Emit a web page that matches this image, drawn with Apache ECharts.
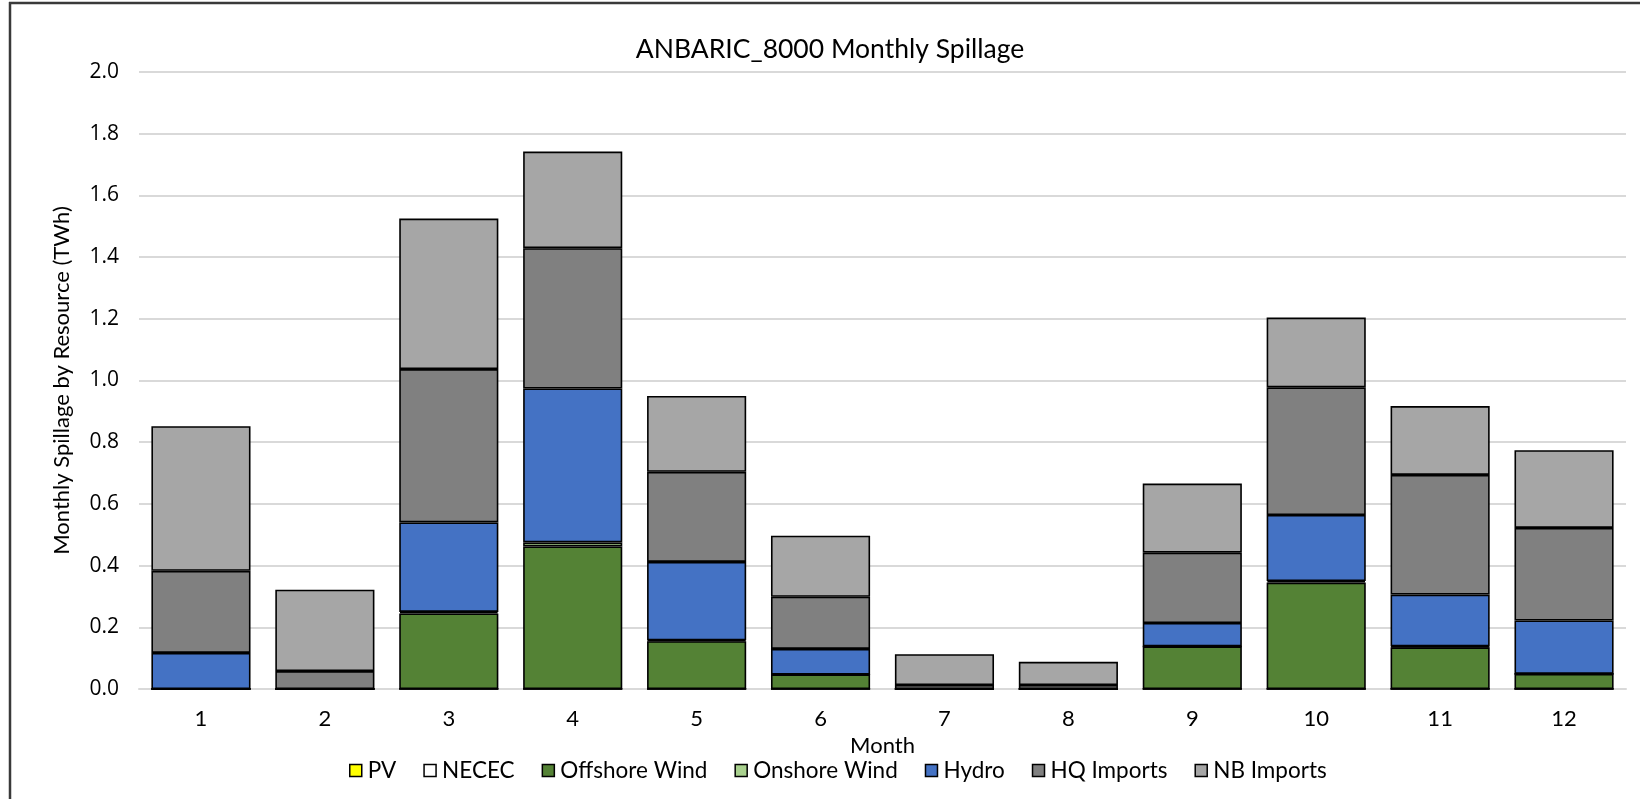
<!DOCTYPE html>
<html>
<head>
<meta charset="utf-8">
<title>ANBARIC_8000 Monthly Spillage</title>
<script src="https://cdn.jsdelivr.net/npm/echarts@6/dist/echarts.min.js"></script>
<style>
  html, body { margin: 0; padding: 0; background: #ffffff; }
  #chart { width: 1640px; height: 799px; }
</style>
</head>
<body>
<div id="chart"></div>
<script>
// Months on the category axis
const months = ['1', '2', '3', '4', '5', '6', '7', '8', '9', '10', '11', '12'];

// Monthly spillage by resource, TWh (stacked bottom to top in this order)
const pv           = [0, 0, 0, 0, 0, 0, 0, 0, 0, 0, 0, 0];
const necec        = [0, 0, 0, 0, 0, 0, 0, 0, 0, 0, 0, 0];
const offshoreWind = [0, 0, 0.245, 0.462, 0.155, 0.047, 0, 0, 0.138, 0.345, 0.135, 0.049];
const onshoreWind  = [0, 0, 0.005, 0.013, 0.003, 0, 0, 0, 0, 0.005, 0.003, 0];
const hydro        = [0.117, 0, 0.290, 0.499, 0.254, 0.083, 0, 0, 0.076, 0.214, 0.168, 0.173];
const hqImports    = [0.266, 0.058, 0.497, 0.455, 0.292, 0.169, 0.013, 0.013, 0.228, 0.414, 0.388, 0.300];
const nbImports    = [0.469, 0.264, 0.488, 0.313, 0.246, 0.198, 0.100, 0.075, 0.224, 0.226, 0.223, 0.252];

const yTicks = [0, 0.2, 0.4, 0.6, 0.8, 1.0, 1.2, 1.4, 1.6, 1.8, 2.0];

const seriesDefs = [
  { name: 'PV',            data: pv,           color: '#FFFF00' },
  { name: 'NECEC',         data: necec,        color: '#FFFFFF' },
  { name: 'Offshore Wind', data: offshoreWind, color: '#548235' },
  { name: 'Onshore Wind',  data: onshoreWind,  color: '#A9D18E' },
  { name: 'Hydro',         data: hydro,        color: '#4472C4' },
  { name: 'HQ Imports',    data: hqImports,    color: '#808080' },
  { name: 'NB Imports',    data: nbImports,    color: '#A6A6A6' }
];

const narrowFont = "Lato, 'Liberation Sans Narrow', sans-serif";
const numFont = "'Open Sans', 'DejaVu Sans', sans-serif";

const chart = echarts.init(document.getElementById('chart'), null, { renderer: 'canvas' });

chart.setOption({
  animation: false,
  backgroundColor: '#ffffff',
  title: {
    text: 'ANBARIC_8000 Monthly Spillage',
    left: 825,
    top: 31,
    textAlign: 'center',
    textStyle: { fontFamily: narrowFont, fontSize: 26.5, fontWeight: 'normal', color: '#000000' }
  },
  grid: { left: 139, right: 14, top: 72, bottom: 110, containLabel: false },
  legend: {
    data: seriesDefs.map(s => s.name),
    left: 344,
    top: 754,
    itemWidth: 12,
    itemHeight: 12,
    itemGap: 27,
    icon: 'rect',
    itemStyle: { borderColor: '#000000', borderWidth: 1.5 },
    textStyle: { fontFamily: narrowFont, fontSize: 22.5, color: '#000000', padding: [0, 0, 0, 1] }
  },
  xAxis: {
    type: 'category',
    data: months,
    name: 'Month',
    nameLocation: 'middle',
    nameGap: 44,
    nameTextStyle: { fontFamily: narrowFont, fontSize: 22, color: '#000000' },
    axisLine: { lineStyle: { color: '#d9d9d9', width: 2 } },
    axisTick: { show: false },
    axisLabel: { margin: 19, fontFamily: narrowFont, fontSize: 22, color: '#000000' }
  },
  yAxis: {
    type: 'value',
    min: yTicks[0],
    max: yTicks[yTicks.length - 1],
    interval: 0.2,
    name: 'Monthly Spillage by Resource (TWh)',
    nameLocation: 'middle',
    nameGap: 66,
    nameTextStyle: { fontFamily: narrowFont, fontSize: 22, color: '#000000' },
    axisLine: { show: false },
    axisTick: { show: false },
    splitLine: { lineStyle: { color: '#d9d9d9', width: 2 } },
    axisLabel: {
      margin: 20,
      fontFamily: numFont,
      fontSize: 21,
      color: '#000000',
      formatter: v => v.toFixed(1)
    }
  },
  series: seriesDefs.map(s => ({
    name: s.name,
    type: 'bar',
    stack: 'spill',
    barCategoryGap: '20%',
    data: s.data,
    itemStyle: { color: s.color, borderColor: '#000000', borderWidth: 1.6 }
  })),
  graphic: [
    { type: 'line', shape: { x1: 10, y1: 2, x2: 10, y2: 799 }, style: { stroke: '#3a3a3a', lineWidth: 2.5 } },
    { type: 'line', shape: { x1: 9, y1: 3, x2: 1640, y2: 3 }, style: { stroke: '#3a3a3a', lineWidth: 2.5 } }
  ]
});
</script>
</body>
</html>
